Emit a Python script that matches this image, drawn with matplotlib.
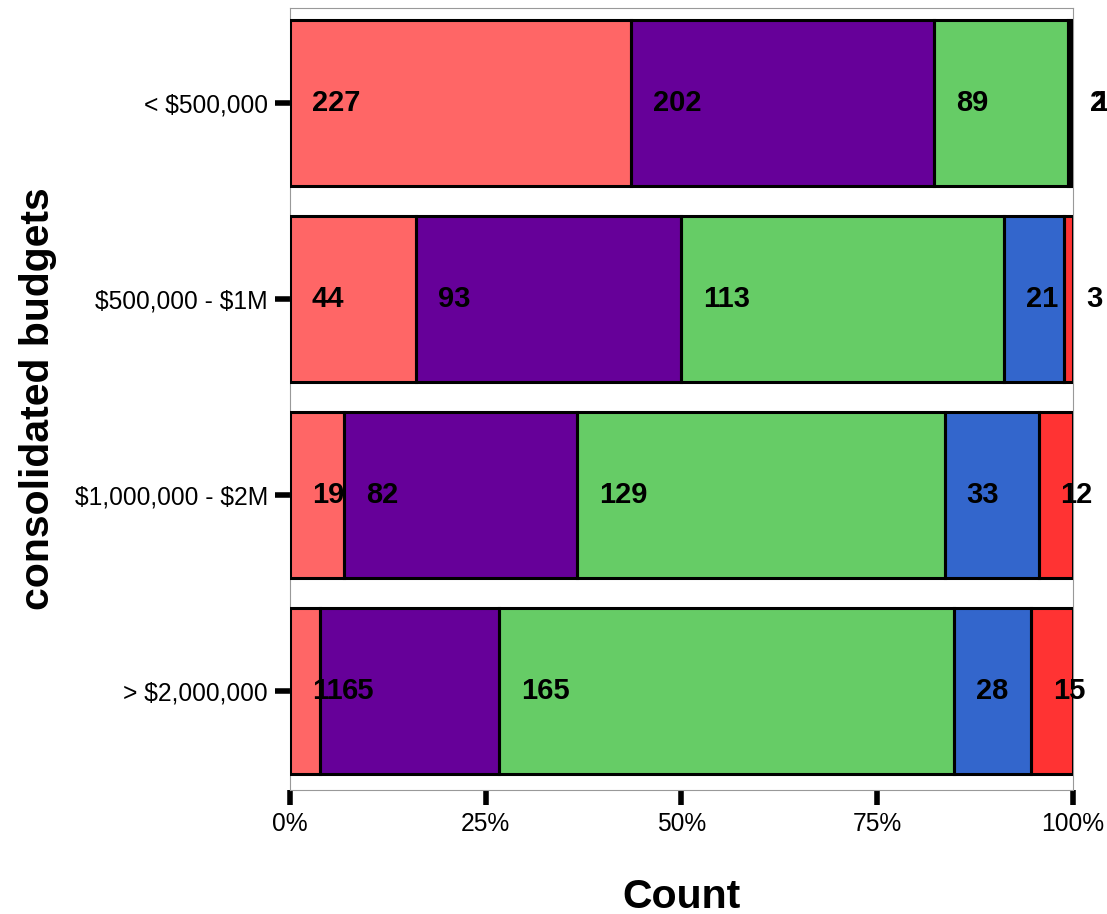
import matplotlib.pyplot as plt
import numpy as np

plt.rcParams['font.family'] = ['Liberation Sans', 'DejaVu Sans']
plt.rcParams['text.parse_math'] = False

# Data
budgets = ['< $500,000', '$500,000 - $1M', '$1,000,000 - $2M', '> $2,000,000']
seg_colors = ['#FF6666', '#660099', '#66CC66', '#3366CC', '#FF3333']
counts = np.array([
    [227, 202, 89, 2, 1],
    [44, 93, 113, 21, 3],
    [19, 82, 129, 33, 12],
    [11, 65, 165, 28, 15],
])

fig = plt.figure(figsize=(11.07, 9.14), dpi=100)
ax = fig.add_axes([0.262, 0.136, 0.707, 0.855])

shares = counts / counts.sum(axis=1, keepdims=True)
starts = np.cumsum(shares, axis=1) - shares
ypos = np.arange(len(budgets))

for j in range(counts.shape[1]):
    ax.barh(ypos, shares[:, j], left=starts[:, j], height=0.85,
            color=seg_colors[j], edgecolor='none', zorder=2)

# count labels, placed just right of each segment start
for i in range(len(budgets)):
    for j in range(counts.shape[1]):
        ax.text(starts[i, j] + 0.028, ypos[i], str(counts[i, j]),
                ha='left', va='center', fontsize=21, fontweight='bold',
                zorder=3, clip_on=False)

# outlines drawn on top of the labels
for j in range(counts.shape[1]):
    ax.barh(ypos, shares[:, j], left=starts[:, j], height=0.85,
            color='none', edgecolor='black', linewidth=2.2, zorder=4)

ax.set_xlim(0, 1)
ax.set_ylim(3.505, -0.485)
ax.set_yticks(ypos)
ax.set_yticklabels(budgets, fontsize=17.7)
ax.set_xticks([0, 0.25, 0.5, 0.75, 1])
ax.set_xticklabels(['0%', '25%', '50%', '75%', '100%'], fontsize=17.7)
ax.tick_params(axis='both', length=11, width=4, color='black', pad=5)

for s in ax.spines.values():
    s.set_color('#999999')
    s.set_linewidth(0.8)

ax.set_xlabel('Count', fontsize=29.5, fontweight='bold', labelpad=30)
ax.set_ylabel('consolidated budgets', fontsize=29.5, fontweight='bold', labelpad=13)

fig.savefig('out.png', dpi=100)
